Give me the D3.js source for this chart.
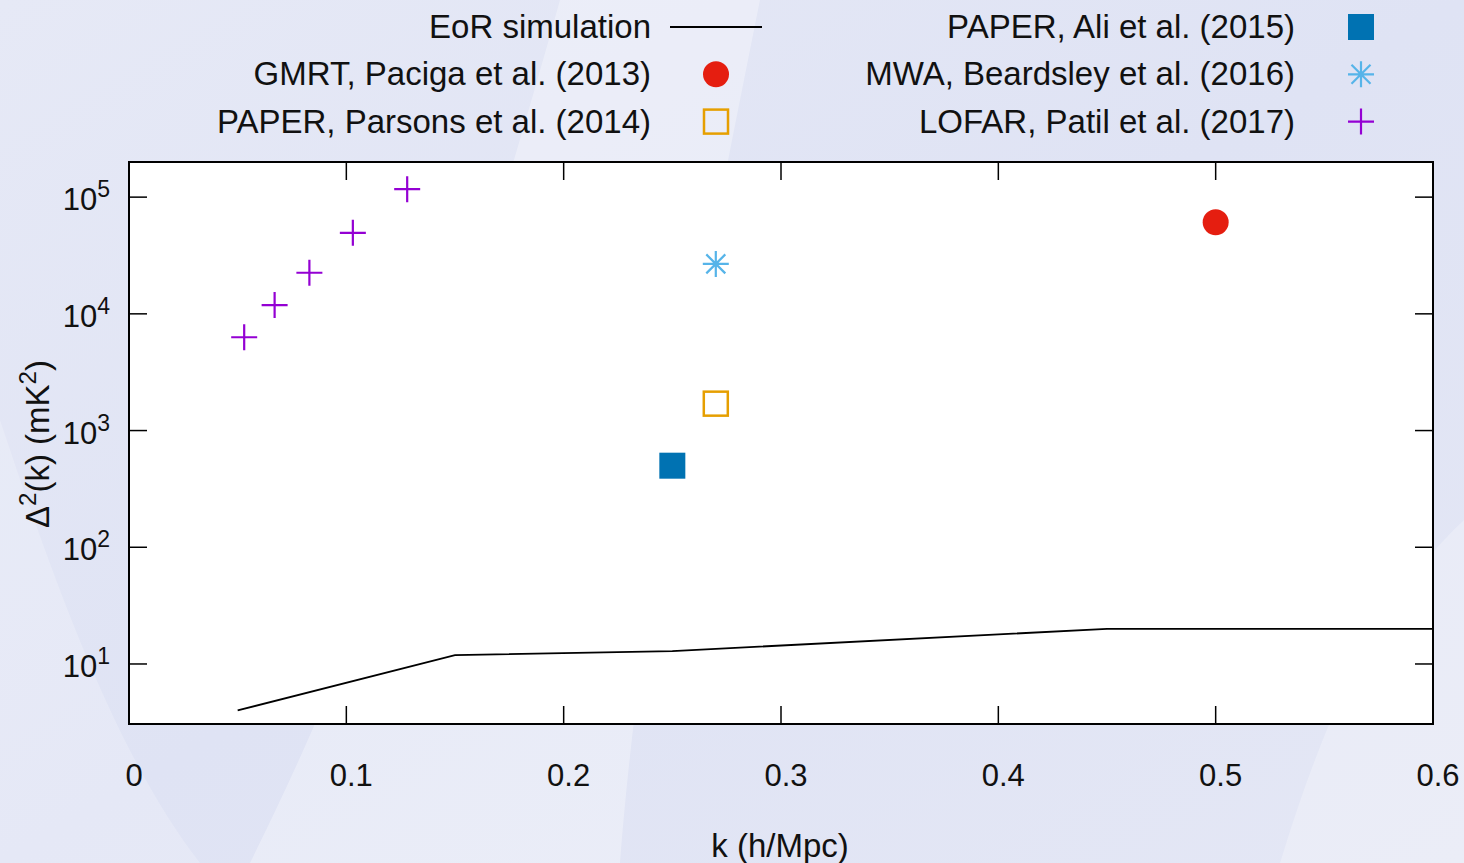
<!DOCTYPE html>
<html>
<head>
<meta charset="utf-8">
<script src="https://cdn.jsdelivr.net/npm/d3@7"></script>
<style>
  body { margin: 0; overflow: hidden; }
  svg text { font-family: "Liberation Sans", Arial, sans-serif; fill: #111; }
</style>
</head>
<body>
<script>
// EoR power spectrum limits
let w = 1464;
let h = 863;

let xTicks = [0, 0.1, 0.2, 0.3, 0.4, 0.5, 0.6];
let yTicks = [10, 100, 1000, 10000, 100000];

let eorK = [0.05, 0.15, 0.25, 0.45, 0.6];
let eorP = [4.0, 11.9, 12.9, 20, 20];

let gmrtK = [0.5];
let gmrtP = [61000];
let parsonsK = [0.27];
let parsonsP = [1700];
let aliK = [0.25];
let aliP = [500];
let mwaK = [0.27];
let mwaP = [26800];
let lofarK = [0.053, 0.067, 0.083, 0.103, 0.128];
let lofarP = [6300, 11900, 22500, 49500, 117000];

let m = { left: 129, right: 1433, top: 162, bottom: 724 };

let x = d3.scaleLinear().domain([0, 0.6]).range([m.left, m.right]);
let y = d3.scaleLog().domain([3.06, 2e5]).range([m.bottom, m.top]);

let svg = d3.select('body').append('svg')
    .attr('width', w)
    .attr('height', h);

// background
let defs = svg.append('defs');
let bg = defs.append('linearGradient').attr('id', 'bg')
    .attr('x1', 0).attr('y1', 0).attr('x2', 1).attr('y2', 1);
bg.append('stop').attr('offset', 0).attr('stop-color', '#e6e9f6');
bg.append('stop').attr('offset', 0.5).attr('stop-color', '#dfe3f4');
bg.append('stop').attr('offset', 1).attr('stop-color', '#e4e7f5');
svg.append('rect').attr('width', w).attr('height', h).attr('fill', 'url(#bg)');
svg.append('path')
    .attr('d', 'M250,863 C330,700 420,500 560,0 L760,0 C700,300 640,600 620,863 Z')
    .attr('fill', '#ffffff').attr('opacity', 0.3);
svg.append('path')
    .attr('d', 'M1280,863 C1330,700 1380,600 1464,520 L1464,863 Z')
    .attr('fill', '#ffffff').attr('opacity', 0.25);
svg.append('path')
    .attr('d', 'M0,863 L0,420 C60,600 120,760 200,863 Z')
    .attr('fill', '#ffffff').attr('opacity', 0.2);

// plot area
svg.append('rect')
    .attr('x', m.left).attr('y', m.top)
    .attr('width', m.right - m.left).attr('height', m.bottom - m.top)
    .attr('fill', '#fff');

let tl = 18;
let g = svg.append('g').attr('stroke', '#000').attr('stroke-width', 1.5);
xTicks.slice(1, -1).forEach(t => {
    g.append('line').attr('x1', x(t)).attr('x2', x(t)).attr('y1', m.bottom).attr('y2', m.bottom - tl);
    g.append('line').attr('x1', x(t)).attr('x2', x(t)).attr('y1', m.top).attr('y2', m.top + tl);
});
yTicks.forEach(t => {
    g.append('line').attr('x1', m.left).attr('x2', m.left + tl).attr('y1', y(t)).attr('y2', y(t));
    g.append('line').attr('x1', m.right).attr('x2', m.right - tl).attr('y1', y(t)).attr('y2', y(t));
});

// tick labels
svg.selectAll('.xl')
    .data(xTicks)
    .enter()
    .append('text')
    .text(d => d)
    .attr('x', d => x(d) + 5)
    .attr('y', 786)
    .attr('text-anchor', 'middle')
    .attr('font-size', 31);

let yl = svg.selectAll('.yl')
    .data(yTicks)
    .enter()
    .append('text')
    .attr('x', 110)
    .attr('y', d => y(d) + 13)
    .attr('text-anchor', 'end')
    .attr('font-size', 31);
yl.append('tspan').text('10');
yl.append('tspan').text(d => Math.round(Math.log10(d)))
    .attr('font-size', 23).attr('dy', -13);

// axis titles
svg.append('text')
    .attr('x', 780).attr('y', 857)
    .attr('text-anchor', 'middle')
    .attr('font-size', 33)
    .text('k (h/Mpc)');

let yt = svg.append('text')
    .attr('transform', 'translate(49,444) rotate(-90)')
    .attr('text-anchor', 'middle')
    .attr('font-size', 33);
yt.append('tspan').text('Δ');
yt.append('tspan').text('2').attr('font-size', 24).attr('dy', -13);
yt.append('tspan').text('(k) (mK').attr('dy', 13);
yt.append('tspan').text('2').attr('font-size', 24).attr('dy', -13);
yt.append('tspan').text(')').attr('dy', 13);

// marker drawing
function marker(sel, kind, color) {
    if (kind === 'circle') {
        sel.append('circle').attr('r', 13).attr('fill', color);
    } else if (kind === 'fsquare') {
        sel.append('rect').attr('x', -13).attr('y', -13).attr('width', 26).attr('height', 26).attr('fill', color);
    } else if (kind === 'osquare') {
        sel.append('rect').attr('x', -12).attr('y', -12).attr('width', 24).attr('height', 24)
            .attr('fill', 'none').attr('stroke', color).attr('stroke-width', 2.5);
    } else if (kind === 'star') {
        sel.append('path')
            .attr('d', 'M-13,0H13M0,-13V13M-9.5,-9.5L9.5,9.5M-9.5,9.5L9.5,-9.5')
            .attr('stroke', color).attr('stroke-width', 2.2);
    } else if (kind === 'plus') {
        sel.append('path')
            .attr('d', 'M-13,0H13M0,-13V13')
            .attr('stroke', color).attr('stroke-width', 2.2);
    }
}

// simulation line
let line = d3.line().x(d => x(d[0])).y(d => y(d[1]));
svg.append('path')
    .datum(eorK.map((k, i) => [k, eorP[i]]))
    .attr('d', line)
    .attr('fill', 'none')
    .attr('stroke', '#000')
    .attr('stroke-width', 1.8);

let series = [
    { k: gmrtK, p: gmrtP, kind: 'circle', color: '#e51e10' },
    { k: parsonsK, p: parsonsP, kind: 'osquare', color: '#e69f00' },
    { k: aliK, p: aliP, kind: 'fsquare', color: '#0072b2' },
    { k: mwaK, p: mwaP, kind: 'star', color: '#56b4e9' },
    { k: lofarK, p: lofarP, kind: 'plus', color: '#9400d3' }
];

series.forEach(s => {
    s.k.forEach((k, i) => {
        let pt = svg.append('g').attr('transform', 'translate(' + x(k) + ',' + y(s.p[i]) + ')');
        marker(pt, s.kind, s.color);
    });
});

// frame
svg.append('rect')
    .attr('x', m.left).attr('y', m.top)
    .attr('width', m.right - m.left).attr('height', m.bottom - m.top)
    .attr('fill', 'none').attr('stroke', '#000').attr('stroke-width', 2);

// legend
let legend = [
    { label: 'EoR simulation', kind: 'line', color: '#000', col: 0, row: 0 },
    { label: 'GMRT, Paciga et al. (2013)', kind: 'circle', color: '#e51e10', col: 0, row: 1 },
    { label: 'PAPER, Parsons et al. (2014)', kind: 'osquare', color: '#e69f00', col: 0, row: 2 },
    { label: 'PAPER, Ali et al. (2015)', kind: 'fsquare', color: '#0072b2', col: 1, row: 0 },
    { label: 'MWA, Beardsley et al. (2016)', kind: 'star', color: '#56b4e9', col: 1, row: 1 },
    { label: 'LOFAR, Patil et al. (2017)', kind: 'plus', color: '#9400d3', col: 1, row: 2 }
];
let colText = [651, 1295];
let colMark = [716, 1361];
legend.forEach(d => {
    let cy = 27 + d.row * 47.3;
    svg.append('text')
        .attr('x', colText[d.col]).attr('y', cy + 11)
        .attr('text-anchor', 'end')
        .attr('font-size', 33)
        .text(d.label);
    if (d.kind === 'line') {
        svg.append('line')
            .attr('x1', 670).attr('x2', 762).attr('y1', cy).attr('y2', cy)
            .attr('stroke', '#000').attr('stroke-width', 1.8);
    } else {
        let mg = svg.append('g').attr('transform', 'translate(' + colMark[d.col] + ',' + cy + ')');
        marker(mg, d.kind, d.color);
    }
});
</script>
</body>
</html>
